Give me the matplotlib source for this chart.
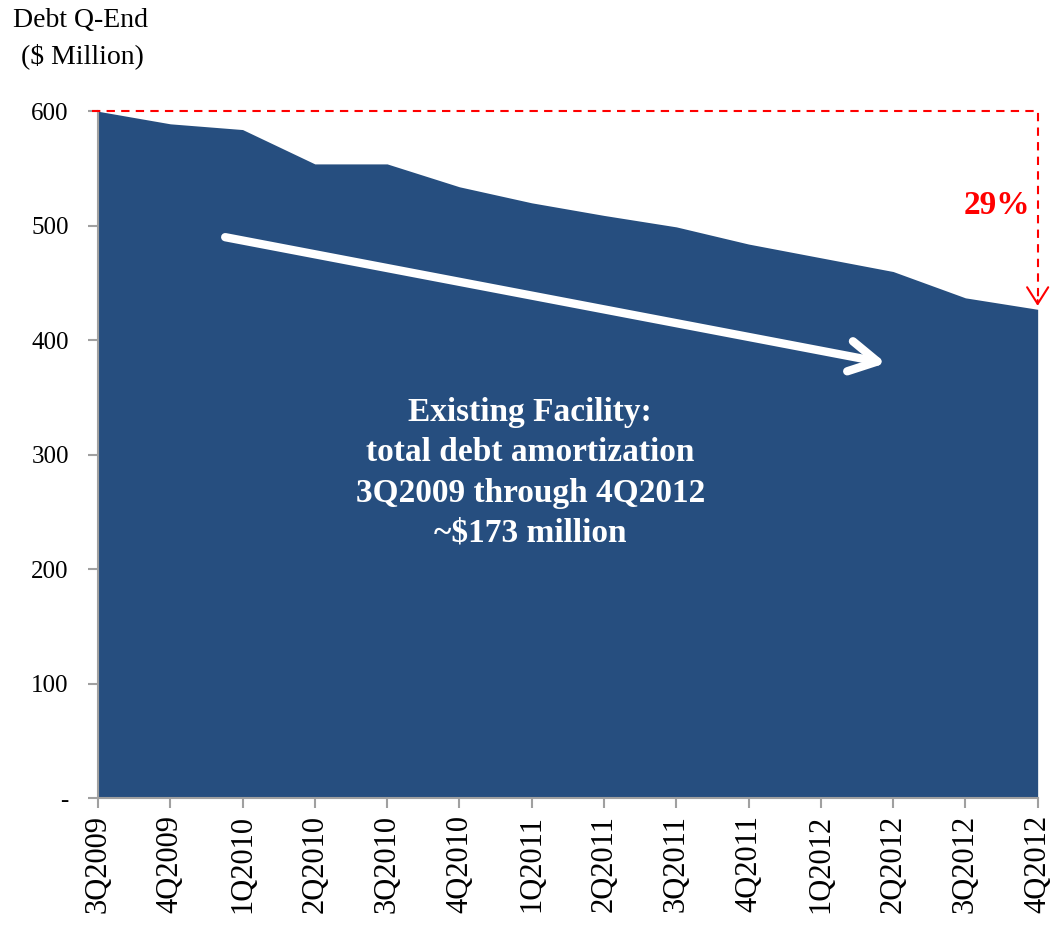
import numpy as np
import matplotlib.pyplot as plt
from matplotlib.ticker import FuncFormatter

plt.rcParams['font.family'] = ['Liberation Serif', 'DejaVu Serif']

# quarters and debt at quarter end ($ million)
quarters = ["3Q2009", "4Q2009", "1Q2010", "2Q2010", "3Q2010", "4Q2010", "1Q2011",
            "2Q2011", "3Q2011", "4Q2011", "1Q2012", "2Q2012", "3Q2012", "4Q2012"]
debt = [600, 589, 584, 554, 554, 534, 520, 509, 499, 484, 472, 460, 437, 427]
drop_label = "29%"
note = "Existing Facility:\ntotal debt amortization\n3Q2009 through 4Q2012\n~$173 million"

fill_color = "#264E7F"

fig = plt.figure(figsize=(10.57, 9.27), dpi=100)
ax = fig.add_axes([0.0927, 0.139, 0.889, 0.741])

x = np.arange(len(quarters))
ax.fill_between(x, debt, 0, color=fill_color, linewidth=0)

ax.set_xlim(0, len(quarters) - 1)
ax.set_ylim(0, 600)
ax.set_yticks(range(0, 601, 100))
ax.yaxis.set_major_formatter(FuncFormatter(lambda v, p: "-" if v == 0 else "%d" % v))
ax.set_xticks(x)
ax.set_xticklabels(quarters, rotation=90, fontsize=22)

for s in ["top", "right"]:
    ax.spines[s].set_visible(False)
for s in ["left", "bottom"]:
    ax.spines[s].set_color("#a0a0a0")
    ax.spines[s].set_linewidth(1.5)
ax.tick_params(axis="both", colors="#a0a0a0", labelcolor="black",
               length=7, width=1.5, direction="out")
ax.tick_params(axis="y", labelsize=18, pad=14)
ax.tick_params(axis="x", pad=5)

# red dashed reference line and drop arrow
last = len(quarters) - 1
dash = (0, (4, 3))
ax.plot([-0.08, last, last], [debt[0], debt[0], debt[-1] + 6], color="red",
        linestyle=dash, linewidth=1.5, clip_on=False, zorder=5)
ax.annotate("", xy=(last, debt[-1] + 3), xytext=(last, debt[-1] + 8),
            arrowprops=dict(arrowstyle="->,head_length=0.6,head_width=0.38", color="red",
                            linewidth=1.5, mutation_scale=20, shrinkA=0, shrinkB=0),
            annotation_clip=False)
ax.text(12.43, 518, drop_label, color="red", fontsize=24, fontweight="bold",
        ha="center", va="center")

# white trend arrow
ax.annotate("", xy=(10.9, 380), xytext=(1.76, 490),
            arrowprops=dict(arrowstyle="->,head_length=1.0,head_width=0.55", color="white",
                            linewidth=6, shrinkA=0, shrinkB=0, mutation_scale=20,
                            capstyle="round", joinstyle="round"))

ax.text(5.98, 284, note, color="white", fontsize=24, fontweight="bold",
        ha="center", va="center", linespacing=1.38)

fig.text(0.012, 0.978, "Debt Q-End", fontsize=20, va="center", ha="left")
fig.text(0.02, 0.939, "($ Million)", fontsize=20, va="center", ha="left")

fig.savefig("out.png", dpi=100)
